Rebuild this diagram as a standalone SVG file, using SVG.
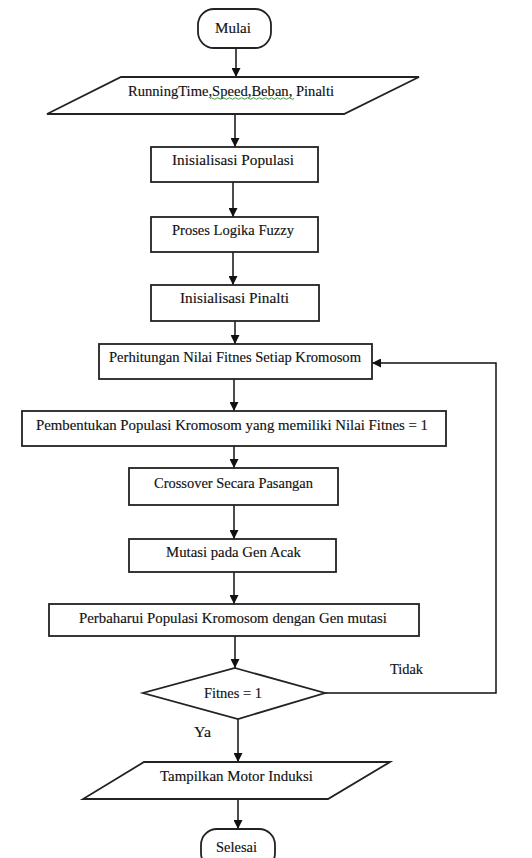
<svg xmlns="http://www.w3.org/2000/svg" width="532" height="858" viewBox="0 0 532 858">
<style>
.shape{fill:#fff;stroke:#222;stroke-width:1.8}
.lbl{font-family:"Liberation Serif","Times New Roman",serif;font-size:15.5px;fill:#111;stroke:#111;stroke-width:0.15;text-anchor:middle}
.free{font-family:"Liberation Serif","Times New Roman",serif;font-size:15.5px;fill:#111;stroke:#111;stroke-width:0.15}
.con{fill:none;stroke:#111;stroke-width:1.5}
</style>
<defs>
<marker id="arr" viewBox="0 0 10 10" refX="10" refY="5" markerWidth="9" markerHeight="9" markerUnits="userSpaceOnUse" orient="auto">
<path d="M0,0 L10,5 L0,10 z" fill="#111"/>
</marker>
</defs>
<rect width="532" height="858" fill="#fff"/>
<g id="connectors">
<path class="con" d="M236,48 V77" marker-end="url(#arr)"/>
<path class="con" d="M235,114 V147" marker-end="url(#arr)"/>
<path class="con" d="M233,182 V217" marker-end="url(#arr)"/>
<path class="con" d="M233,252 V285" marker-end="url(#arr)"/>
<path class="con" d="M235,321 V344" marker-end="url(#arr)"/>
<path class="con" d="M234,379 V411" marker-end="url(#arr)"/>
<path class="con" d="M234,446 V468" marker-end="url(#arr)"/>
<path class="con" d="M234,505 V539" marker-end="url(#arr)"/>
<path class="con" d="M234,572 V604" marker-end="url(#arr)"/>
<path class="con" d="M235,636 V668" marker-end="url(#arr)"/>
<path class="con" d="M325,693 H496 V363 H372" marker-end="url(#arr)"/>
<path class="con" d="M238,719 V762" marker-end="url(#arr)"/>
<path class="con" d="M238,799 V829" marker-end="url(#arr)"/>
<text class="free" x="390" y="674" textLength="33" lengthAdjust="spacingAndGlyphs">Tidak</text>
<text class="free" x="194" y="737" textLength="17" lengthAdjust="spacingAndGlyphs">Ya</text>
</g>
<g id="mulai">
<rect class="shape" x="198" y="9" width="73" height="39" rx="16"/>
<text class="lbl" x="233" y="33" textLength="36" lengthAdjust="spacingAndGlyphs">Mulai</text>
</g>
<g id="input">
<polygon class="shape" points="121,77 419,77 344,114 47,114"/>
<text class="lbl" x="231" y="96" textLength="206" lengthAdjust="spacingAndGlyphs">RunningTime,Speed,Beban, Pinalti</text>
<path d="M210,98.5 q1.5,-1.5 3,0 t3,0 t3,0 t3,0 t3,0 t3,0 t3,0 t3,0 t3,0 t3,0 t3,0 t3,0 t3,0 t3,0 t3,0 t3,0 t3,0 t3,0 t3,0 t3,0 t3,0 t3,0 t3,0 t3,0 t3,0 t3,0 t3,0 t3,0" fill="none" stroke="#3a9a3a" stroke-width="1"/>
</g>
<g id="inisialisasi-populasi">
<rect class="shape" x="151" y="147" width="167" height="35"/>
<text class="lbl" x="233" y="165" textLength="122" lengthAdjust="spacingAndGlyphs">Inisialisasi Populasi</text>
</g>
<g id="proses-fuzzy">
<rect class="shape" x="151" y="217" width="167" height="35"/>
<text class="lbl" x="233" y="235" textLength="122" lengthAdjust="spacingAndGlyphs">Proses Logika Fuzzy</text>
</g>
<g id="inisialisasi-pinalti">
<rect class="shape" x="151" y="285" width="168" height="36"/>
<text class="lbl" x="234.5" y="303" textLength="109" lengthAdjust="spacingAndGlyphs">Inisialisasi Pinalti</text>
</g>
<g id="perhitungan">
<rect class="shape" x="99" y="344" width="273" height="35"/>
<text class="lbl" x="235" y="362" textLength="252" lengthAdjust="spacingAndGlyphs">Perhitungan Nilai Fitnes Setiap Kromosom</text>
</g>
<g id="pembentukan">
<rect class="shape" x="22" y="411" width="424" height="35"/>
<text class="lbl" x="232" y="430" textLength="392" lengthAdjust="spacingAndGlyphs">Pembentukan Populasi Kromosom yang memiliki Nilai Fitnes = 1</text>
</g>
<g id="crossover">
<rect class="shape" x="129" y="468" width="209" height="37"/>
<text class="lbl" x="233.5" y="488" textLength="159" lengthAdjust="spacingAndGlyphs">Crossover Secara Pasangan</text>
</g>
<g id="mutasi">
<rect class="shape" x="129" y="539" width="207" height="33"/>
<text class="lbl" x="233.5" y="557" textLength="135" lengthAdjust="spacingAndGlyphs">Mutasi pada Gen Acak</text>
</g>
<g id="perbaharui">
<rect class="shape" x="49" y="604" width="370" height="32"/>
<text class="lbl" x="233" y="623" textLength="308" lengthAdjust="spacingAndGlyphs">Perbaharui Populasi Kromosom dengan Gen mutasi</text>
</g>
<g id="fitnes-decision">
<polygon class="shape" points="235,668 325,693 238,719 143,693"/>
<text class="lbl" x="233" y="698" textLength="58" lengthAdjust="spacingAndGlyphs">Fitnes = 1</text>
</g>
<g id="output">
<polygon class="shape" points="144,762 390,762 328,799 83,799"/>
<text class="lbl" x="236.5" y="781" textLength="153" lengthAdjust="spacingAndGlyphs">Tampilkan Motor Induksi</text>
</g>
<g id="selesai">
<rect class="shape" x="201" y="829" width="74" height="40" rx="16"/>
<text class="lbl" x="236.5" y="852" textLength="41" lengthAdjust="spacingAndGlyphs">Selesai</text>
</g>
</svg>
